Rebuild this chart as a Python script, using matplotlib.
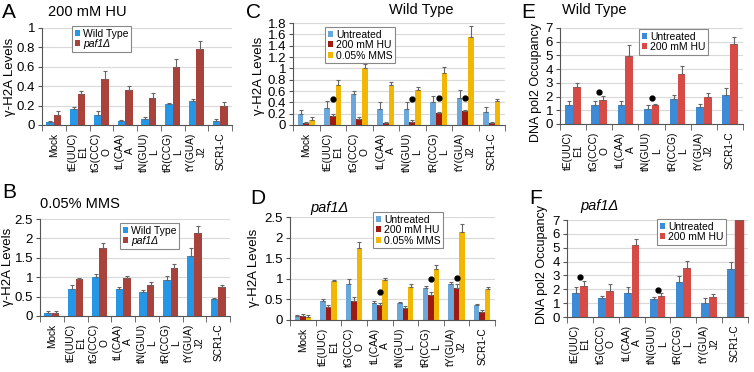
import numpy as np
import matplotlib
matplotlib.use("Agg")
import matplotlib.pyplot as plt

plt.rcParams['font.family'] = ['Liberation Sans', 'DejaVu Sans']

# ---- data ----
sites = ["Mock", "tE(UUC)\nE1", "tG(CCC)\nO", "tL(CAA)\nA", "tN(GUU)\nL",
         "tR(CCG)\nL", "tY(GUA)\nJ2", "SCR1-C"]
sites_pol2 = sites[1:]

# gamma-H2A, wild type
wt_untr = [0.19, 0.30, 0.54, 0.29, 0.28, 0.40, 0.47, 0.23]
wt_untr_err = [0.07, 0.12, 0.06, 0.12, 0.12, 0.11, 0.15, 0.09]
wt_hu = [0.03, 0.165, 0.10, 0.04, 0.06, 0.22, 0.25, 0.04]
wt_hu_err = [0.015, 0.025, 0.045, 0.01, 0.02, 0.01, 0.02, 0.02]
wt_mms = [0.08, 0.70, 1.00, 0.70, 0.62, 0.92, 1.55, 0.43]
wt_mms_err = [0.06, 0.10, 0.07, 0.06, 0.05, 0.10, 0.20, 0.03]

# gamma-H2A, paf1 deletion
paf_untr = [0.10, 0.47, 0.87, 0.41, 0.41, 0.77, 0.88, 0.37]
paf_untr_err = [0.03, 0.04, 0.13, 0.06, 0.02, 0.05, 0.04, 0.02]
paf_hu = [0.10, 0.32, 0.47, 0.36, 0.28, 0.60, 0.78, 0.20]
paf_hu_err = [0.04, 0.035, 0.09, 0.045, 0.055, 0.08, 0.09, 0.04]
paf_mms = [0.07, 0.95, 1.75, 0.98, 0.80, 1.23, 2.13, 0.75]
paf_mms_err = [0.05, 0.03, 0.14, 0.05, 0.08, 0.10, 0.20, 0.06]

# DNA pol2 occupancy
pol2_wt_untr = [1.35, 1.35, 1.35, 1.10, 1.80, 1.25, 2.10]
pol2_wt_untr_err = [0.35, 0.30, 0.30, 0.30, 0.35, 0.20, 0.50]
pol2_wt_hu = [2.72, 1.72, 4.95, 1.38, 3.65, 1.97, 5.85]
pol2_wt_hu_err = [0.30, 0.30, 0.80, 0.10, 0.60, 0.30, 0.50]
pol2_paf_untr = [1.75, 1.35, 1.75, 1.28, 2.50, 1.00, 3.50]
pol2_paf_untr_err = [0.45, 0.15, 0.40, 0.15, 0.45, 0.35, 0.50]
pol2_paf_hu = [2.25, 1.90, 5.20, 1.55, 3.55, 1.45, 7.00]
pol2_paf_hu_err = [0.35, 0.45, 0.45, 0.15, 0.50, 0.20, 0.00]

# significance dots: (category index, height)
dots_c = [(1, 0.46), (4, 0.45), (5, 0.47), (6, 0.47)]
dots_d = [(3, 0.67), (5, 1.00), (6, 1.02)]
dots_e = [(1, 2.30), (3, 1.90)]
dots_f = [(0, 2.90), (3, 1.95)]

BLUE_A, RED_A = "#2597e6", "#a8423b"
BLUE_C, RED_C, GOLD_C = "#6aa8dc", "#9e1b12", "#f2b705"
BLUE_E, RED_E = "#3d8ad6", "#d64b45"

W, H = 754, 372


def r(l, t, rgt, b):
    return [l / W, 1 - b / H, (rgt - l) / W, (b - t) / H]


def fx(px, py):
    return (px / W, 1 - py / H)


def panel(rect, labels, series, ylim, step, ylabel, label_xy, legend_pos,
          width, ylsize=9.5):
    ax = fig.add_axes(rect)
    n = len(labels)
    x = np.arange(n)
    k = len(series)
    for i, (vals, errs, color, name) in enumerate(series):
        off = (i - (k - 1) / 2) * width
        ax.bar(x + off, vals, width, color=color, label=name, zorder=2)
        ax.errorbar(x + off, vals, yerr=[np.zeros(n), errs], fmt="none",
                    ecolor="#666666", elinewidth=0.8, capsize=1.3,
                    capthick=0.8, zorder=3)
    ax.set_xlim(-0.5, n - 0.5)
    ax.set_ylim(*ylim)
    ax.set_yticks(np.arange(ylim[0], ylim[1] + step / 2, step))
    ax.yaxis.set_major_formatter(matplotlib.ticker.FuncFormatter(
        lambda v, p: ("%g" % round(v, 2))))
    ax.set_xticks(x)
    ax.set_xticklabels(labels, rotation=90, fontsize=7.3, va="top",
                       ha="center", multialignment="center", linespacing=1.05)
    ax.set_xticks(np.arange(-0.5, n), minor=True)
    ax.tick_params(axis="x", which="major", length=0, pad=5.5)
    ax.tick_params(axis="x", which="minor", length=4, color="#555555")
    ax.tick_params(axis="y", labelsize=9.5, length=3, color="#555555", pad=2)
    ax.grid(axis="y", color="#d9d9d9", linewidth=0.8, zorder=0)
    ax.set_axisbelow(True)
    for s in ["top", "right"]:
        ax.spines[s].set_visible(False)
    ax.spines["left"].set_color("#555555")
    ax.spines["bottom"].set_color("#555555")
    ax.set_ylabel(ylabel, fontsize=ylsize)
    ax.yaxis.label.set_va("center")
    ax.yaxis.set_label_coords(*fx(*label_xy), transform=fig.transFigure)
    leg = ax.legend(loc="upper left", bbox_to_anchor=legend_pos,
                    bbox_transform=fig.transFigure, fontsize=7.5,
                    handlelength=0.5, handleheight=0.5, handletextpad=0.3,
                    borderpad=0.25, labelspacing=0.05, borderaxespad=0,
                    fancybox=False, framealpha=1)
    leg.get_frame().set_edgecolor("#888888")
    leg.get_frame().set_linewidth(0.8)
    return ax, leg


def dots(ax, pts):
    for i, h in pts:
        ax.plot(i, h, "o", color="black", markersize=3.5, zorder=4)


fig = plt.figure(figsize=(W / 100, H / 100), dpi=100)

yl = "\u03b3-H2A Levels"
ax, leg = panel(r(42, 28, 232, 125), sites,
                [(wt_hu, wt_hu_err, BLUE_A, "Wild Type"),
                 (paf_hu, paf_hu_err, RED_A, "paf1\u0394")],
                (0, 1), 0.2, yl, (10, 77), fx(72, 26), 0.32)
leg.get_texts()[1].set_style("italic")

ax, leg = panel(r(40, 219, 230, 316), sites,
                [(wt_mms, wt_mms_err, BLUE_A, "Wild Type"),
                 (paf_mms, paf_mms_err, RED_A, "paf1\u0394")],
                (0, 2.5), 0.5, yl, (8, 267), fx(120, 223), 0.32)
leg.get_texts()[1].set_style("italic")

ax, leg = panel(r(293, 23, 505, 125), sites,
                [(wt_untr, wt_untr_err, BLUE_C, "Untreated"),
                 (wt_hu, wt_hu_err, RED_C, "200 mM HU"),
                 (wt_mms, wt_mms_err, GOLD_C, "0.05% MMS")],
                (0, 1.8), 0.2, yl, (259, 76), fx(325, 27), 0.21)
dots(ax, dots_c)

ax, leg = panel(r(290, 217, 495, 320), sites,
                [(paf_untr, paf_untr_err, BLUE_C, "Untreated"),
                 (paf_hu, paf_hu_err, RED_C, "200 mM HU"),
                 (paf_mms, paf_mms_err, GOLD_C, "0.05% MMS")],
                (0, 2.5), 0.5, yl, (254, 268), fx(373, 212), 0.21)
dots(ax, dots_d)

ax, leg = panel(r(560, 28, 743, 124), sites_pol2,
                [(pol2_wt_untr, pol2_wt_untr_err, BLUE_E, "Untreated"),
                 (pol2_wt_hu, pol2_wt_hu_err, RED_E, "200 mM HU")],
                (0, 7), 1, "DNA pol2 Occupancy", (536, 83), fx(639, 29), 0.3,
                ylsize=9)
dots(ax, dots_e)

ax, leg = panel(r(567, 220, 748, 317), sites_pol2,
                [(pol2_paf_untr, pol2_paf_untr_err, BLUE_E, "Untreated"),
                 (pol2_paf_hu, pol2_paf_hu_err, RED_E, "200 mM HU")],
                (0, 7), 1, "DNA pol2 Occupancy", (542, 264), fx(657, 219), 0.3,
                ylsize=9)
dots(ax, dots_f)
# the off-scale SCR1-C bar is drawn darker in the original
ax.patches[-1].set_color("#b8423b")

# panel letters and titles
for letter, px, py in [("A", 2, 12), ("B", 2, 192), ("C", 246, 12),
                       ("D", 250, 199), ("E", 521, 13), ("F", 529, 199)]:
    fig.text(*fx(px, py), letter, fontsize=15, va="center", ha="left")

fig.text(*fx(48, 12), "200 mM HU", fontsize=10.5, va="center")
fig.text(*fx(40, 204), "0.05% MMS", fontsize=10.5, va="center")
fig.text(*fx(421, 10), "Wild Type", fontsize=10.5, va="center", ha="center")
fig.text(*fx(310, 208), "paf1\u0394", fontsize=10.5, va="center", style="italic")
fig.text(*fx(562, 10), "Wild Type", fontsize=10.5, va="center")
fig.text(*fx(580, 206), "paf1\u0394", fontsize=10.5, va="center", style="italic")

fig.savefig("out.png", dpi=100)
